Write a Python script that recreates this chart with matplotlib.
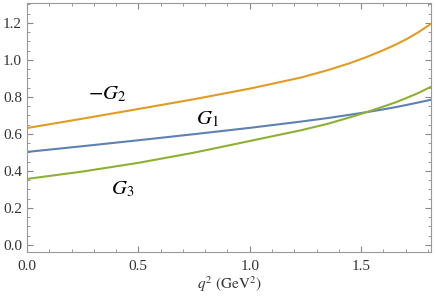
import matplotlib
matplotlib.use("Agg")
import matplotlib.pyplot as plt
from matplotlib.ticker import MultipleLocator

q2 = [0.0, 0.25, 0.5, 0.75, 1.0, 1.23, 1.35, 1.45, 1.525, 1.6, 1.655, 1.705, 1.76, 1.81]
minus_G2 = [0.632, 0.683, 0.735, 0.788, 0.845, 0.905, 0.945, 0.983, 1.016, 1.053, 1.083, 1.113, 1.152, 1.192]
G1 = [0.503, 0.534, 0.566, 0.599, 0.633, 0.667, 0.686, 0.704, 0.718, 0.733, 0.745, 0.757, 0.771, 0.784]
G3 = [0.357, 0.397, 0.444, 0.499, 0.562, 0.620, 0.655, 0.690, 0.718, 0.748, 0.771, 0.795, 0.823, 0.853]

plt.rcParams['font.family'] = ['Liberation Serif', 'DejaVu Serif']
plt.rcParams['mathtext.fontset'] = 'stix'

fig = plt.figure(figsize=(4.36, 2.96), dpi=100)
ax = fig.add_axes([27/436, 1-252/296, (431-27)/436, (252-3)/296])

ax.plot(q2, G1, color='#5E81B5', lw=1.5)
ax.plot(q2, minus_G2, color='#E19C24', lw=1.5)
ax.plot(q2, G3, color='#8FB032', lw=1.5)

ax.set_xlim(0, 1.814)
ax.set_ylim(-0.038, 1.308)
ax.xaxis.set_major_locator(MultipleLocator(0.5))
ax.xaxis.set_minor_locator(MultipleLocator(0.1))
ax.yaxis.set_major_locator(MultipleLocator(0.2))
ax.yaxis.set_minor_locator(MultipleLocator(0.05))
ax.xaxis.set_major_formatter(plt.FuncFormatter(lambda v, p: f"{v:.1f}"))
ax.yaxis.set_major_formatter(plt.FuncFormatter(lambda v, p: f"{v:.1f}"))
ax.tick_params(which='both', direction='in', top=True, right=True, color='#888888', labelsize=11, labelcolor='#333333')
ax.tick_params(which='major', length=4, width=0.8)
ax.tick_params(which='minor', length=2, width=0.6)
ax.tick_params(axis='x', pad=6)
for s in ax.spines.values():
    s.set_color('#999999')
    s.set_linewidth(0.8)

ax.text(0.36, 0.815, r'$-G_2$', fontsize=15, ha='center', va='center')
ax.text(0.81, 0.68, r'$G_1$', fontsize=15, ha='center', va='center')
ax.text(0.43, 0.30, r'$G_3$', fontsize=15, ha='center', va='center')

ax.set_xlabel(r'$q^2\ \mathrm{(GeV^2)}$', fontsize=11, labelpad=1, color='#333333')

fig.savefig('out.png', dpi=100)
